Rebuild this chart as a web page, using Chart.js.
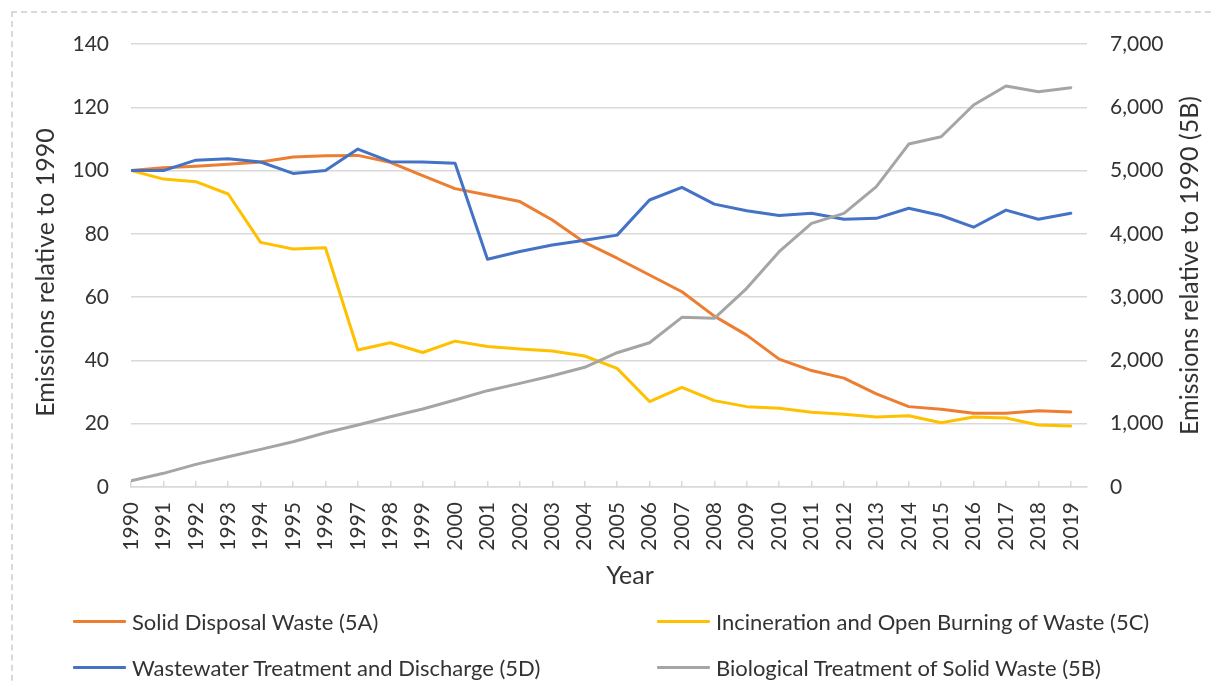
<!DOCTYPE html>
<html>
<head>
<meta charset="utf-8">
<title>Waste sector emissions relative to 1990</title>
<script src="https://cdn.jsdelivr.net/npm/chart.js@4.4.1/dist/chart.umd.min.js"></script>
<style>
  html, body { margin: 0; padding: 0; background: #fff; }
  #wrap { position: relative; width: 1211px; height: 685px; overflow: hidden; font-family: Lato, sans-serif; }
  #frame { position: absolute; left: 11px; top: 11px; width: 1240px; height: 720px; border: 2px dashed #d9d9d9; box-sizing: border-box; }
  #chart { position: absolute; left: 0; top: 0; }
  #legend { position: absolute; left: 73px; top: 598px; display: grid; grid-template-columns: 584px auto; }
  .item { display: flex; align-items: center; height: 46.5px; }
  .swatch { width: 53px; height: 3px; margin-right: 6px; border-radius: 1px; }
  .item span { font-size: 22px; color: #333; white-space: nowrap; }
</style>
</head>
<body>
<div id="wrap">
  <div id="frame"></div>
  <canvas id="chart" width="1211" height="685"></canvas>
  <div id="legend"></div>
</div>
<script>
const years = [1990, 1991, 1992, 1993, 1994, 1995, 1996, 1997, 1998, 1999,
  2000, 2001, 2002, 2003, 2004, 2005, 2006, 2007, 2008, 2009,
  2010, 2011, 2012, 2013, 2014, 2015, 2016, 2017, 2018, 2019];

// left axis (index, 1990 = 100)
const solidDisposal = [100, 100.9, 101.4, 102, 102.7, 104.3, 104.7, 104.8, 102.6, 98.4,
  94.3, 92.3, 90.2, 84.4, 77.3, 72.3, 67, 61.7, 54, 48,
  40.4, 36.8, 34.4, 29.4, 25.4, 24.6, 23.3, 23.3, 24.1, 23.7];
const incineration = [100, 97.3, 96.5, 92.6, 77.3, 75.2, 75.6, 43.3, 45.6, 42.5,
  46.1, 44.4, 43.6, 43, 41.4, 37.5, 27, 31.5, 27.3, 25.4,
  24.9, 23.6, 23, 22.1, 22.5, 20.3, 22.1, 21.8, 19.6, 19.3];
const wastewater = [100, 100, 103.3, 103.7, 102.7, 99.1, 100, 106.8, 102.8, 102.7,
  102.3, 72, 74.4, 76.5, 78, 79.6, 90.7, 94.7, 89.4, 87.3,
  85.8, 86.5, 84.6, 84.9, 88.1, 85.8, 82.1, 87.5, 84.6, 86.5];

// right axis (5B)
const biological = [100, 216, 358, 479, 595, 716, 858, 980, 1111, 1232,
  1375, 1522, 1638, 1759, 1891, 2122, 2280, 2681, 2665, 3139,
  3718, 4166, 4324, 4745, 5419, 5535, 6036, 6336, 6246, 6309];

const leftTicks = [0, 20, 40, 60, 80, 100, 120, 140];
const rightTicks = [0, 1000, 2000, 3000, 4000, 5000, 6000, 7000];

const leftTitle = "Emissions relative to 1990";
const rightTitle = "Emissions relative to 1990 (5B)";
const xTitle = "Year";

const textColor = "#333";
const gridColor = "#d9d9d9";
const fontFamily = "Lato, sans-serif";

function pontos(valores) {
  return valores.map((v, i) => ({ x: years[i], y: v }));
}

function serie(label, valores, cor, eixo, ordem) {
  return {
    label,
    data: pontos(valores),
    borderColor: cor,
    backgroundColor: cor,
    borderWidth: 3,
    borderCapStyle: "round",
    borderJoinStyle: "round",
    pointRadius: 0,
    tension: 0,
    yAxisID: eixo,
    order: ordem
  };
}

function textoVertical(ctx, texto, x, y) {
  ctx.save();
  ctx.translate(x, y);
  ctx.rotate(-Math.PI / 2);
  ctx.fillText(texto, 0, 0);
  ctx.restore();
}

// axis titles: both vertical ones read bottom to top, as in the original
const axisTitlesPlugin = {
  id: "axisTitles",
  afterDraw(chart) {
    const { ctx, chartArea, scales } = chart;
    const meioY = (chartArea.top + chartArea.bottom) / 2;
    const meioX = (chartArea.left + chartArea.right) / 2;
    ctx.save();
    ctx.font = `25px ${fontFamily}`;
    ctx.fillStyle = textColor;
    ctx.textAlign = "center";
    ctx.textBaseline = "middle";
    textoVertical(ctx, leftTitle, scales.y.left + 46, meioY + 7);
    textoVertical(ctx, rightTitle, scales.y1.right - 21, meioY);
    ctx.fillText(xTitle, meioX + 21, scales.x.top + 89);
    ctx.restore();
  }
};

const chart = new Chart(document.getElementById("chart"), {
  type: "line",
  data: {
    datasets: [
      serie("Solid Disposal Waste (5A)", solidDisposal, "#ED7D31", "y", 4),
      serie("Incineration and Open Burning of Waste (5C)", incineration, "#FFC000", "y", 3),
      serie("Wastewater Treatment and Discharge (5D)", wastewater, "#4472C4", "y", 2),
      serie("Biological Treatment of Solid Waste (5B)", biological, "#A5A5A5", "y1", 1)
    ]
  },
  options: {
    responsive: false,
    animation: false,
    layout: {
      padding: { top: 44, left: 0, right: 0, bottom: 88 }
    },
    scales: {
      x: {
        type: "linear",
        min: years[0],
        max: years[years.length - 1] + 0.5,
        afterBuildTicks: (scale) => {
          scale.ticks = years.map((y) => ({ value: y }));
        },
        afterFit: (scale) => { scale.height = 110; },
        ticks: {
          minRotation: 90,
          maxRotation: 90,
          padding: 21,
          color: textColor,
          font: { family: fontFamily, size: 21 },
          callback: (value) => String(value)
        },
        grid: {
          drawOnChartArea: false,
          drawTicks: true,
          tickLength: -6,
          color: gridColor,
          lineWidth: 1.5
        },
        border: { display: true, color: gridColor, width: 1.5 }
      },
      y: {
        position: "left",
        min: 0,
        max: 140,
        afterBuildTicks: (scale) => {
          scale.ticks = leftTicks.map((v) => ({ value: v }));
        },
        afterFit: (scale) => { scale.width = 131; },
        ticks: {
          padding: 22,
          color: textColor,
          font: { family: fontFamily, size: 21 }
        },
        grid: {
          color: gridColor,
          lineWidth: 1.5,
          drawTicks: false
        },
        border: { display: false }
      },
      y1: {
        position: "right",
        min: 0,
        max: 7000,
        afterBuildTicks: (scale) => {
          scale.ticks = rightTicks.map((v) => ({ value: v }));
        },
        afterFit: (scale) => { scale.width = 124; },
        ticks: {
          padding: 23,
          color: textColor,
          font: { family: fontFamily, size: 21 },
          callback: (value) => value.toLocaleString("en-US")
        },
        grid: {
          drawOnChartArea: false,
          drawTicks: false
        },
        border: { display: false }
      }
    },
    plugins: {
      legend: { display: false },
      tooltip: { enabled: false }
    }
  },
  plugins: [axisTitlesPlugin]
});

const legendaEl = document.getElementById("legend");
chart.data.datasets.forEach((ds) => {
  const item = document.createElement("div");
  item.className = "item";
  const traco = document.createElement("div");
  traco.className = "swatch";
  traco.style.background = ds.borderColor;
  const texto = document.createElement("span");
  texto.textContent = ds.label;
  item.appendChild(traco);
  item.appendChild(texto);
  legendaEl.appendChild(item);
});
</script>
</body>
</html>
